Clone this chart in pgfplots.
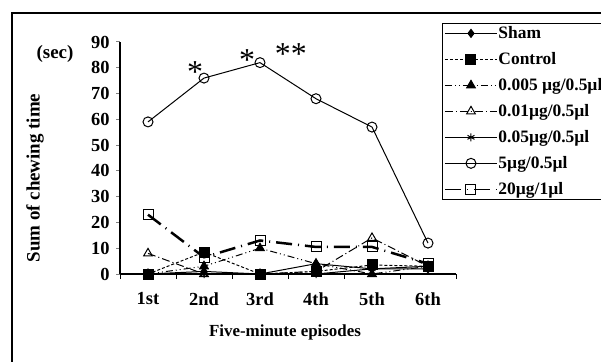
\documentclass[border=0pt]{standalone}
\usepackage{fontspec}
\setmainfont{Liberation Serif}
\usepackage{pgfplots}
\pgfplotsset{compat=1.18}
\begin{document}
\begin{tikzpicture}[x=1bp,y=1bp]
\useasboundingbox (0,0) rectangle (601,361);
\clip (0,0) rectangle (601,361);
\fill[white] (0,0) rectangle (601,361);
\draw[line width=1.5bp] (12,-10) -- (12,348) -- (610,348);
\begin{axis}[
  at={(120bp,87bp)}, anchor=south west,
  scale only axis, width=336bp, height=232bp,
  xmin=0.5, xmax=6.5, ymin=0, ymax=90,
  axis lines*=left,
  axis line style={line width=1.5bp},
  tick align=outside,
  xtick={1,2,3,4,5,6},
  xticklabels={1st,2nd,3rd,4th,5th,6th},
  minor xtick={0.5,1.5,2.5,3.5,4.5,5.5,6.5},
  ytick={0,10,...,90},
  major tick length=4bp, minor tick length=5bp,
  x tick style={draw=none},
  minor x tick style={draw=black, line width=1bp},
  y tick style={line width=1bp},
  /pgf/number format/assume math mode=true,
  ticklabel style={font=\bfseries\fontsize{18.5}{18.5}\selectfont},
  xticklabel style={yshift=-11bp},
  yticklabel style={xshift=-3bp},
  clip=false,
  legend style={at={(0.958,1.082)}, anchor=north west, draw=black, line width=1.2bp,
    font=\bfseries\fontsize{17.5}{17.5}\selectfont, row sep=10.4bp, inner sep=2bp,
    nodes={inner sep=1bp}},
  legend cell align=left,
  legend image code/.code={\draw[#1, line width=1bp, mark repeat=2, mark phase=2] plot coordinates {(0bp,0bp) (26bp,0bp) (52bp,0bp)};},
]
\addplot[black, line width=1bp, mark=diamond*, mark size=4bp, mark options={solid, fill=black}]
  coordinates {(1,0) (2,1) (3,0) (4,4) (5,2) (6,2)};
\addlegendentry{Sham}
\addplot[black, line width=1bp, dash pattern=on 3bp off 2bp, mark=square*, mark size=5bp, mark options={solid, fill=black}]
  coordinates {(1,0) (2,8.5) (3,0) (4,1) (5,3.5) (6,3)};
\addlegendentry{Control}
\addplot[black, line width=1bp, dash pattern=on 7bp off 3bp on 1bp off 3bp on 1bp off 3bp, mark=triangle*, mark size=5bp, mark options={solid, fill=black}]
  coordinates {(1,0) (2,3) (3,10) (4,4) (5,0) (6,3)};
\addlegendentry{0.005 µg/0.5µl}
\addplot[black, line width=1bp, dash pattern=on 8bp off 3bp on 1bp off 3bp, mark=triangle, mark size=5bp, mark options={solid, fill=white}]
  coordinates {(1,8) (2,0) (3,0) (4,1) (5,14) (6,3)};
\addlegendentry{0.01µg/0.5µl}
\addplot[black, line width=1bp, mark=asterisk, mark size=4bp, mark options={solid}]
  coordinates {(1,0) (2,0) (3,0) (4,0) (5,2) (6,3)};
\addlegendentry{0.05µg/0.5µl}
\addplot[black, line width=1bp, mark=o, mark size=5bp, mark options={solid, fill=white}]
  coordinates {(1,59) (2,76) (3,82) (4,68) (5,57) (6,12)};
\addlegendentry{5µg/0.5µl}
\addplot[black, line width=2.5bp, dash pattern=on 16bp off 6bp on 1bp off 6bp, mark=square, mark size=5bp, mark options={solid, fill=white, line width=1bp}]
  coordinates {(1,23) (2,6.5) (3,13) (4,10.5) (5,10.5) (6,4)};
\addlegendentry{20µg/1µl}
\node[font=\fontsize{32}{32}\selectfont] at (axis cs:1.84,78.5) {*};
\node[font=\fontsize{32}{32}\selectfont] at (axis cs:2.77,83) {*};
\node[font=\fontsize{32}{32}\selectfont] at (axis cs:3.55,85.5) {**};
\end{axis}
\node[font=\bfseries\fontsize{19}{19}\selectfont] at (55,307) {(sec)};
\node[font=\bfseries\fontsize{19}{19}\selectfont, rotate=90] at (35,183) {Sum of chewing time};
\node[font=\bfseries\fontsize{17}{17}\selectfont] at (285,29) {Five-minute episodes};
\end{tikzpicture}
\end{document}
